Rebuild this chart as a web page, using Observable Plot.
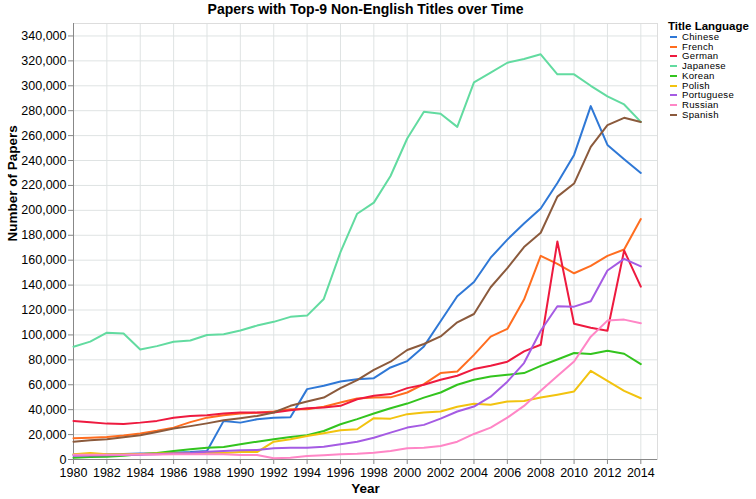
<!DOCTYPE html>
<html>
<head>
<meta charset="utf-8">
<script src="https://cdn.jsdelivr.net/npm/d3@7"></script>
<script src="https://cdn.jsdelivr.net/npm/@observablehq/plot@0.6"></script>
<style>
  html, body { margin: 0; padding: 0; background: #fff; }
  body { font-family: "Liberation Sans", Arial, Helvetica, sans-serif; }
  #wrap { position: relative; width: 756px; height: 499px; overflow: hidden; }
  #legend { position: absolute; left: 668px; top: 0; width: 90px; height: 140px; color: #000; }
  #legend .ttl { position: absolute; left: 0; top: 20px; font-weight: bold; font-size: 11.5px; line-height: 12px; white-space: nowrap; }
  #legend .row { position: absolute; left: 2px; height: 9.5px; line-height: 9.5px; font-size: 9.6px; letter-spacing: 0.3px; white-space: nowrap; }
  #legend .sw { position: absolute; left: 0; top: 4px; width: 7px; height: 2px; }
  #legend .lb { position: absolute; left: 12px; top: 0; }
</style>
</head>
<body>
<div id="wrap"><div id="legend"></div></div>
<script>
const chartTitle = "Papers with Top-9 Non-English Titles over Time";
const xTitle = "Year";
const yTitle = "Number of Papers";
const legendTitle = "Title Language";

const years = [1980,1981,1982,1983,1984,1985,1986,1987,1988,1989,1990,1991,1992,1993,1994,1995,1996,1997,1998,1999,2000,2001,2002,2003,2004,2005,2006,2007,2008,2009,2010,2011,2012,2013,2014];

const languages = ["Chinese","French","German","Japanese","Korean","Polish","Portuguese","Russian","Spanish"];
const colors = ["#2f78d6","#ff6d1f","#ee1a3f","#62dba0","#33c41e","#f2c30f","#a55be3","#ff86c6","#8b5a3c"];

const chinese = [4000,4200,4300,4500,4800,5000,5500,6000,6800,31000,29600,32300,33600,34000,56500,59200,62600,64500,65300,73900,79000,90800,111000,131000,142500,162000,176500,189500,201500,222000,244500,283700,252500,241000,230000];
const french = [17000,17500,18100,19300,20800,23000,25600,30000,33600,35600,36900,37500,38500,40400,40400,42300,45700,48900,49700,49900,53800,60500,69400,70700,84000,98600,104800,128400,163500,157000,149500,155500,163500,168600,193000];
const german = [31000,30000,28800,28500,29600,31000,33600,35000,35600,36900,37700,37700,37700,39600,41200,41700,43100,48400,51100,52500,57300,60000,64000,67200,72600,75200,78500,86800,92100,175000,109000,105800,103400,167800,138800];
const japanese = [90500,94600,101800,101200,88300,91000,94500,95500,100000,100500,103500,107500,110500,114500,115500,128900,166400,197300,206200,227600,257700,279100,277500,267000,302800,310500,318500,321500,325300,309200,309200,300000,291500,285000,271000];
const korean = [1500,2000,2300,3000,4200,5200,6800,8200,9500,10100,12200,14300,16200,18100,19500,22900,28300,32400,36900,41200,44900,49700,53800,60000,64000,66600,68000,69400,75200,80300,85500,84700,87300,84900,76600];
const polish = [4200,5200,4200,4300,4500,4800,5000,5300,5500,5200,6000,6000,14300,16200,18900,21100,23500,24300,33200,32800,36400,37700,38500,42300,44800,43900,46500,47000,49700,52000,54600,71200,63200,55100,49200];
const portuguese = [3000,3200,3400,3600,3900,4300,4800,5300,6300,6800,7400,7600,9000,9500,9500,10300,12200,14300,17500,21600,25600,27800,32800,38500,42500,50400,62500,77400,103400,123000,122700,127000,151700,161100,155000];
const russian = [3800,3800,3800,3900,4000,4100,4200,4200,4200,4200,3600,3600,1000,1500,2800,3400,4200,4700,5500,6800,9000,9500,10900,14300,20500,25600,33600,43000,55100,67000,78700,98600,111500,112300,109300];
const spanish = [14300,15500,16200,17800,19500,22000,24800,26800,29000,31500,33200,35000,37700,43100,46500,49700,57300,63700,72000,78500,87900,92700,98800,110100,116800,138300,153600,170500,182000,211000,221500,251000,268400,274300,271000];

const xTicks = [1980,1982,1984,1986,1988,1990,1992,1994,1996,1998,2000,2002,2004,2006,2008,2010,2012,2014];
const yTicks = [0,20000,40000,60000,80000,100000,120000,140000,160000,180000,200000,220000,240000,260000,280000,300000,320000,340000];

const seriesValues = [chinese, french, german, japanese, korean, polish, portuguese, russian, spanish];
const rows = languages.flatMap((lang, i) => years.map((yr, j) => ({language: lang, year: yr, value: seriesValues[i][j]})));

const font = "Liberation Sans, Arial, Helvetica, sans-serif";
const fmtComma = d3.format(",");
const fmtYear = d3.format("d");

const plot = Plot.plot({
  width: 756,
  height: 499,
  marginLeft: 73,
  marginRight: 99,
  marginTop: 23,
  marginBottom: 40,
  style: {fontFamily: font, background: "#fff", color: "#000", overflow: "visible"},
  x: {domain: [1980, 2015], label: null, tickFormat: fmtYear},
  y: {domain: [0, 350000], label: null, tickFormat: fmtComma},
  color: {domain: languages, range: colors},
  marks: [
    Plot.gridX(xTicks, {stroke: "#dfe3e3", strokeOpacity: 1, strokeWidth: 1}),
    Plot.gridY(yTicks, {stroke: "#dfe3e3", strokeOpacity: 1, strokeWidth: 1}),
    Plot.frame({stroke: "#dddddd"}),
    Plot.ruleY([0], {stroke: "#888"}),
    Plot.ruleX([1980], {stroke: "#888"}),
    Plot.axisX(xTicks, {tickSize: 5, tickPadding: 4, stroke: "#888", fill: "#000", tickFormat: fmtYear, fontSize: 12.5, label: null}),
    Plot.axisY(yTicks, {tickSize: 5, tickPadding: 2, stroke: "#888", fill: "#000", tickFormat: fmtComma, fontSize: 12.5, label: null}),
    Plot.lineY(rows, {x: "year", y: "value", z: "language", stroke: "language", strokeWidth: 2}),
    Plot.text([chartTitle], {frameAnchor: "top", dy: -14, lineAnchor: "middle", fontWeight: "bold", fontSize: 14, fill: "#000"}),
    Plot.text([xTitle], {frameAnchor: "bottom", dy: 29, lineAnchor: "middle", fontWeight: "bold", fontSize: 13.5, fill: "#000"}),
    Plot.text([yTitle], {frameAnchor: "left", dx: -61, rotate: -90, lineAnchor: "middle", fontWeight: "bold", fontSize: 13.5, fill: "#000"})
  ]
});

const wrap = document.getElementById("wrap");
wrap.insertBefore(plot, wrap.firstChild);

const legend = document.getElementById("legend");
const t = document.createElement("div");
t.className = "ttl";
t.textContent = legendTitle;
legend.appendChild(t);
languages.forEach((lang, i) => {
  const r = document.createElement("div");
  r.className = "row";
  r.style.top = (32 + i * 9.7) + "px";
  const sw = document.createElement("div");
  sw.className = "sw";
  sw.style.background = colors[i];
  const lb = document.createElement("div");
  lb.className = "lb";
  lb.textContent = lang;
  r.appendChild(sw);
  r.appendChild(lb);
  legend.appendChild(r);
});
</script>
</body>
</html>
